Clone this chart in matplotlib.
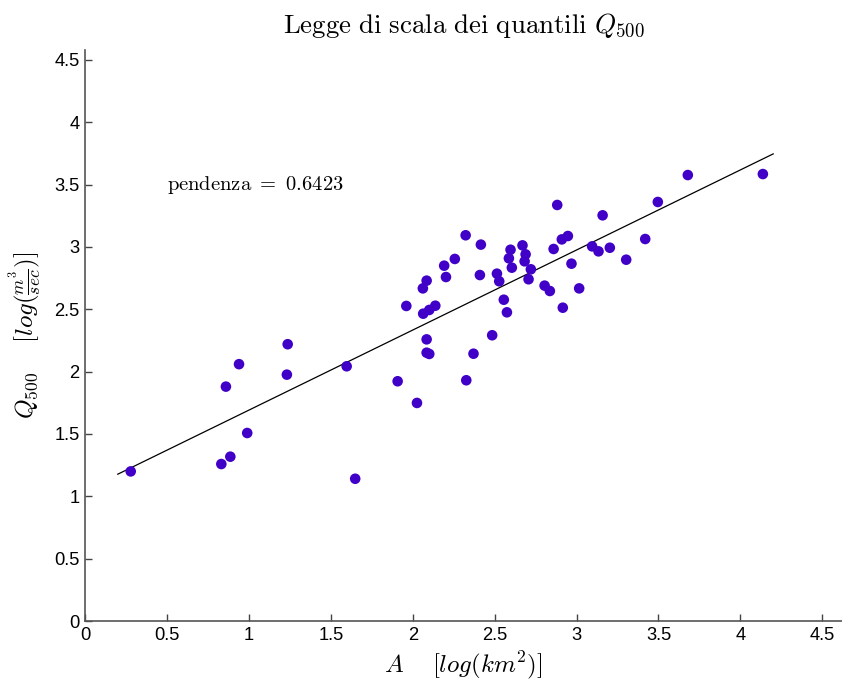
import matplotlib
matplotlib.use("Agg")
import matplotlib.pyplot as plt
import numpy as np

plt.rcParams['mathtext.fontset'] = 'cm'

# log(A) [km^2] and log(Q500) [m^3/sec]
log_area = [0.279, 0.94, 0.86, 1.237, 1.232, 1.597, 0.99, 0.887, 0.832, 1.649,
            2.323, 2.416, 2.257, 2.192, 2.203, 2.085, 2.062, 1.961, 2.138, 2.101,
            2.064, 2.085, 2.085, 2.101, 1.908, 2.026, 2.327, 2.371, 2.485, 2.410,
            2.514, 2.528, 2.556, 2.575, 2.597, 2.587, 2.605, 2.670, 2.689, 2.683,
            2.721, 2.707, 2.860, 2.805, 2.837, 2.882, 3.159, 3.496, 3.679, 4.137,
            2.947, 2.910, 3.095, 3.134, 3.203, 3.419, 3.303, 2.969, 3.016, 2.916]
log_q500 = [1.20, 2.06, 1.88, 2.22, 1.976, 2.043, 1.508, 1.318, 1.259, 1.141,
            3.094, 3.019, 2.904, 2.850, 2.759, 2.730, 2.668, 2.527, 2.529, 2.495,
            2.465, 2.259, 2.152, 2.142, 1.923, 1.749, 1.931, 2.144, 2.292, 2.775,
            2.786, 2.725, 2.577, 2.476, 2.978, 2.909, 2.834, 3.013, 2.941, 2.885,
            2.821, 2.741, 2.984, 2.690, 2.647, 3.337, 3.254, 3.361, 3.577, 3.585,
            3.088, 3.061, 3.005, 2.965, 2.994, 3.064, 2.898, 2.866, 2.668, 2.513]

# regression line
slope = 0.6423
intercept = 1.049
fit_range = [0.2, 4.2]

xticks = [0, 0.5, 1, 1.5, 2, 2.5, 3, 3.5, 4, 4.5]
yticks = [0, 0.5, 1, 1.5, 2, 2.5, 3, 3.5, 4, 4.5]

fig = plt.figure(figsize=(8.42, 6.81), dpi=100)
ax = fig.add_axes([85 / 842, 60 / 681, 757 / 842, 571 / 681])

ax.scatter(log_area, log_q500, s=58, color='#4000C8', edgecolors='none', zorder=3)
xf = np.array(fit_range)
ax.plot(xf, slope * xf + intercept, color='black', linewidth=0.9)

ax.text(0.5, 3.5, r"$\mathrm{pendenza}\ =\ 0.6423$", fontsize=14.8, va='center')

ax.set_xlim(0, 4.62)
ax.set_ylim(0, 4.58)
ax.set_xticks(xticks)
ax.set_yticks(yticks)
ax.set_xticklabels([f"{t:g}" for t in xticks], family='Liberation Sans', fontsize=13.2)
ax.set_yticklabels([f"{t:g}" for t in yticks], family='Liberation Sans', fontsize=13.2)
ax.tick_params(direction='in', length=5, color='#444444', width=1, pad=4)

for side in ['top', 'right']:
    ax.spines[side].set_visible(False)
for side in ['left', 'bottom']:
    ax.spines[side].set_color('#555555')
    ax.spines[side].set_linewidth(1.2)

ax.set_title(r"$\mathrm{Legge\ di\ scala\ dei\ quantili}\ Q_{500}$", fontsize=19.4, pad=12)
ax.set_xlabel(r"$A\quad\ [log(km^2)]$", fontsize=18, labelpad=4)
ax.set_ylabel(r"$Q_{500}\quad\ [log(\frac{m^3}{sec})]$", fontsize=18, labelpad=8)

plt.savefig("out.png", dpi=100)
